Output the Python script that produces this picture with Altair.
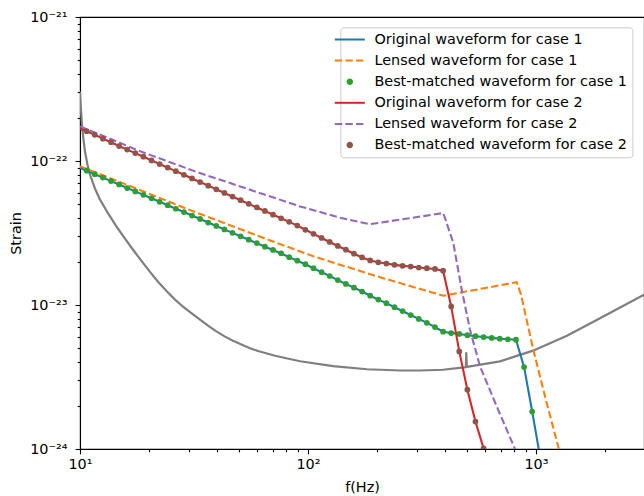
import altair as alt
import pandas as pd

FONT = "DejaVu Sans"
FS = 14.4

# ---------------- data ----------------
dot_freq = [10.70, 11.61, 12.60, 13.68, 14.84, 16.11, 17.48, 18.97, 20.59, 22.35,
            24.25, 26.32, 28.56, 30.99, 33.63, 36.50, 39.61, 42.99, 46.66, 50.63,
            54.95, 59.63, 64.71, 70.23, 76.21, 82.71, 89.76, 97.41, 105.7, 114.7,
            124.5, 135.1, 146.6, 159.1, 172.7, 187.4, 203.4, 220.7, 239.5, 259.9,
            282.1, 306.1, 332.2, 360.5, 391.3, 424.6, 460.8, 500.1, 542.7, 589.0,
            639.2, 693.6, 752.8, 817.0, 886.6, 962.3, 1044.0]

case1_strain = [8.56e-23, 8.10e-23, 7.67e-23, 7.25e-23, 6.87e-23, 6.49e-23, 6.15e-23, 5.82e-23,
                5.51e-23, 5.21e-23, 4.93e-23, 4.66e-23, 4.42e-23, 4.18e-23, 3.96e-23, 3.74e-23,
                3.54e-23, 3.35e-23, 3.17e-23, 3.00e-23, 2.84e-23, 2.69e-23, 2.54e-23, 2.41e-23,
                2.28e-23, 2.15e-23, 2.03e-23, 1.92e-23, 1.80e-23, 1.69e-23, 1.59e-23, 1.49e-23,
                1.40e-23, 1.32e-23, 1.24e-23, 1.16e-23, 1.09e-23, 1.03e-23, 9.65e-24, 9.07e-24,
                8.52e-24, 8.01e-24, 7.52e-24, 7.03e-24, 6.53e-24, 6.39e-24, 6.29e-24, 6.17e-24,
                6.07e-24, 5.99e-24, 5.91e-24, 5.83e-24, 5.78e-24, 5.74e-24, 3.71e-24, 1.82e-24,
                8.7e-25]
case1_start = 8.97e-23

case2_strain = [1.61e-22, 1.52e-22, 1.43e-22, 1.35e-22, 1.27e-22, 1.20e-22, 1.135e-22, 1.071e-22,
                1.010e-22, 9.53e-23, 9.00e-23, 8.50e-23, 8.02e-23, 7.56e-23, 7.14e-23, 6.74e-23,
                6.36e-23, 6.00e-23, 5.66e-23, 5.34e-23, 5.04e-23, 4.76e-23, 4.50e-23, 4.24e-23,
                4.00e-23, 3.78e-23, 3.56e-23, 3.33e-23, 3.12e-23, 2.92e-23, 2.74e-23, 2.57e-23,
                2.42e-23, 2.27e-23, 2.14e-23, 2.04e-23, 1.98e-23, 1.94e-23, 1.90e-23, 1.87e-23,
                1.85e-23, 1.82e-23, 1.80e-23, 1.78e-23, 1.73e-23, 9.78e-24, 4.76e-24, 2.58e-24,
                1.55e-24, 1.01e-24, 6.5e-25]
case2_start = 1.68e-22

lens1_freq = [10.0, 31.30, 71.66, 107.3, 206.9, 392.2, 823.1, 859.6, 973.1, 1114.0, 1252.0, 1287.0]
lens1_strain = [9.20e-23, 4.48e-23, 2.73e-23, 2.16e-23, 1.56e-23, 1.16e-23, 1.44e-23, 1.18e-23,
                4.89e-24, 2.09e-24, 1.04e-24, 8.7e-25]

lens2_freq = [10.0, 18.34, 31.94, 92.23, 138.2, 187.1, 392.2, 433.9, 472.2, 513.5, 568.1,
              672.4, 808.9, 833.8]
lens2_strain = [1.74e-22, 1.17e-22, 8.47e-23, 4.84e-23, 4.04e-23, 3.64e-23, 4.35e-23, 2.70e-23,
                1.28e-23, 6.74e-24, 3.75e-24, 1.98e-24, 1.00e-24, 8.7e-25]

noise_freq = [10.0, 10.10, 10.20, 10.36, 10.52, 10.79, 11.06, 11.64, 12.24, 13.27, 14.39,
              15.75, 17.08, 18.71, 20.28, 21.98, 24.08, 26.10, 28.30, 31.00, 33.60, 36.43,
              39.49, 43.25, 46.89, 51.34, 55.67, 60.35, 71.66, 92.23, 128.8, 181.5, 253.2,
              309.9, 391.0, 492.6, 494.6, 497.1, 695.3, 970.1, 1367.0, 1909.0, 2977.0]
noise_strain = [3.03e-22, 2.27e-22, 1.79e-22, 1.41e-22, 1.16e-22, 9.43e-23, 8.03e-23, 6.42e-23,
                5.39e-23, 4.34e-23, 3.55e-23, 2.89e-23, 2.42e-23, 2.00e-23, 1.70e-23, 1.45e-23,
                1.24e-23, 1.09e-23, 9.73e-24, 8.70e-24, 7.91e-24, 7.18e-24, 6.58e-24, 6.03e-24,
                5.65e-24, 5.30e-24, 5.01e-24, 4.79e-24, 4.44e-24, 4.07e-24, 3.76e-24, 3.58e-24,
                3.51e-24, 3.51e-24, 3.55e-24, 3.70e-24, 4.70e-24, 3.72e-24, 4.06e-24, 4.82e-24,
                6.12e-24, 8.10e-24, 1.18e-23]

series_names = ["Original waveform for case 1", "Lensed waveform for case 1",
                "Best-matched waveform for case 1", "Original waveform for case 2",
                "Lensed waveform for case 2", "Best-matched waveform for case 2"]
series_colors = ["#1f77b4", "#ff7f0e", "#2ca02c", "#d62728", "#9467bd", "#8c564b"]
noise_color = "#7f7f7f"

x_ticks = [10, 20, 30, 40, 50, 60, 70, 80, 90, 100, 200, 300, 400, 500, 600, 700, 800, 900,
           1000, 2000]
y_ticks = [1e-24, 2e-24, 3e-24, 4e-24, 5e-24, 6e-24, 7e-24, 8e-24, 9e-24,
           1e-23, 2e-23, 3e-23, 4e-23, 5e-23, 6e-23, 7e-23, 8e-23, 9e-23,
           1e-22, 2e-22, 3e-22, 4e-22, 5e-22, 6e-22, 7e-22, 8e-22, 9e-22, 1e-21]

# ---------------- tables ----------------
def table(freq, strain):
    return pd.DataFrame({"f": freq, "h": strain})

df_noise = table(noise_freq, noise_strain)
df_orig1 = table([10.0] + dot_freq, [case1_start] + case1_strain)
df_dots1 = table(dot_freq, case1_strain)
df_lens1 = table(lens1_freq, lens1_strain)
df_orig2 = table([10.0] + dot_freq[:len(case2_strain)], [case2_start] + case2_strain)
df_dots2 = table(dot_freq[:len(case2_strain)], case2_strain)
df_lens2 = table(lens2_freq, lens2_strain)
df_leg = pd.DataFrame({"series": series_names, "f": [10.0] * 6, "h": [1e-22] * 6})

# ---------------- scales & axes ----------------
xscale = alt.Scale(type="log", domain=[10, 2977], nice=False)
yscale = alt.Scale(type="log", domain=[1e-24, 1e-21], nice=False)

x_major = "datum.value == 10 || datum.value == 100 || datum.value == 1000"
y_major = "datum.value == 1e-21 || datum.value == 1e-22 || datum.value == 1e-23 || datum.value == 1e-24"

common_axis = dict(
    tickSize=4.9, tickColor="black", tickWidth=1.1, domainColor="black", domainWidth=1.1,
    labelFont=FONT, labelFontSize=FS, labelColor="black",
    labelFlush=False, labelOverlap=False, grid=False,
    titleFont=FONT, titleFontSize=FS, titleFontWeight="normal", titleColor="black",
    titleBaseline="middle", titleAlign="center",
)
x_axis = alt.Axis(
    values=x_ticks,
    labelExpr="datum.value == 10 ? '10¹' : datum.value == 100 ? '10²' : datum.value == 1000 ? '10³' : ''",
    tickDash={"condition": {"test": x_major, "value": [6, 0]}, "value": [2.8, 10]},
    labelPadding=4, title="f(Hz)", titleX=282, titleY=38, **common_axis,
)
y_axis = alt.Axis(
    values=y_ticks,
    labelExpr="datum.value == 1e-21 ? '10⁻²¹' : datum.value == 1e-22 ? '10⁻²²' : datum.value == 1e-23 ? '10⁻²³' : datum.value == 1e-24 ? '10⁻²⁴' : ''",
    tickDash={"condition": {"test": y_major, "value": [6, 0]}, "value": [2.8, 10]},
    labelPadding=8, title="Strain", titleX=-64, titleY=216, **common_axis,
)

def enc():
    return dict(
        x=alt.X("f:Q", scale=xscale, axis=x_axis),
        y=alt.Y("h:Q", scale=yscale, axis=y_axis),
    )

def line_layer(df, color, dash=None, width=2.08):
    kw = dict(color=color, strokeWidth=width, clip=True, strokeCap="butt")
    if dash:
        kw["strokeDash"] = dash
    return alt.Chart(df).mark_line(**kw).encode(**enc())

def dot_layer(df, color):
    return alt.Chart(df).mark_point(filled=True, shape="circle", size=33, color=color,
                                    opacity=1, strokeWidth=0, clip=True).encode(**enc())

DASH = [7.4, 3.2]
noise = line_layer(df_noise, noise_color, width=2.2)
orig1 = line_layer(df_orig1, series_colors[0])
lens1 = line_layer(df_lens1, series_colors[1], dash=DASH)
dots1 = dot_layer(df_dots1, series_colors[2])
orig2 = line_layer(df_orig2, series_colors[3])
lens2 = line_layer(df_lens2, series_colors[4], dash=DASH)
dots2 = dot_layer(df_dots2, series_colors[5])

# legend symbols (unit = 5 px, symmetric, 30 px wide)
solid_path = "M-3,-0.2H3V0.2H-3Z"
dash_path = "M-3,-0.2H-1.52V0.2H-3Z M-0.88,-0.2H0.6V0.2H-0.88Z M1.24,-0.2H2.72V0.2H1.24Z"
dot_path = "M0.65,0A0.65,0.65,0,1,1,-0.65,0A0.65,0.65,0,1,1,0.65,0Z"
legend_shapes = [solid_path, dash_path, dot_path, solid_path, dash_path, dot_path]

legend = alt.Legend(
    title=None, orient="none", legendX=260.4, legendY=10.3,
    labelFont=FONT, labelFontSize=FS, labelColor="black",
    fillColor="white", strokeColor="#cccccc", cornerRadius=3, padding=5,
    rowPadding=6.1, labelOffset=17.4, symbolOffset=-2.8, symbolSize=100, symbolStrokeWidth=0,
    symbolOpacity=1, labelLimit=400,
)
legend_layer = alt.Chart(df_leg).mark_point(filled=True, size=100, opacity=1, clip=True).encode(
    color=alt.Color("series:N", scale=alt.Scale(domain=series_names, range=series_colors),
                    legend=legend),
    shape=alt.Shape("series:N", scale=alt.Scale(domain=series_names, range=legend_shapes),
                    legend=legend),
    **enc(),
).transform_filter("false")

chart = alt.layer(noise, orig1, lens1, dots1, orig2, lens2, dots2, legend_layer).properties(
    width=564, height=432,
    padding={"left": 80, "top": 17, "right": 0, "bottom": 47},
    autosize=alt.AutoSizeParams(type="none"),
    background="white",
).configure_view(stroke="black", strokeWidth=1.1)

chart.save("out.html", embed_options={"renderer": "svg", "actions": False})
